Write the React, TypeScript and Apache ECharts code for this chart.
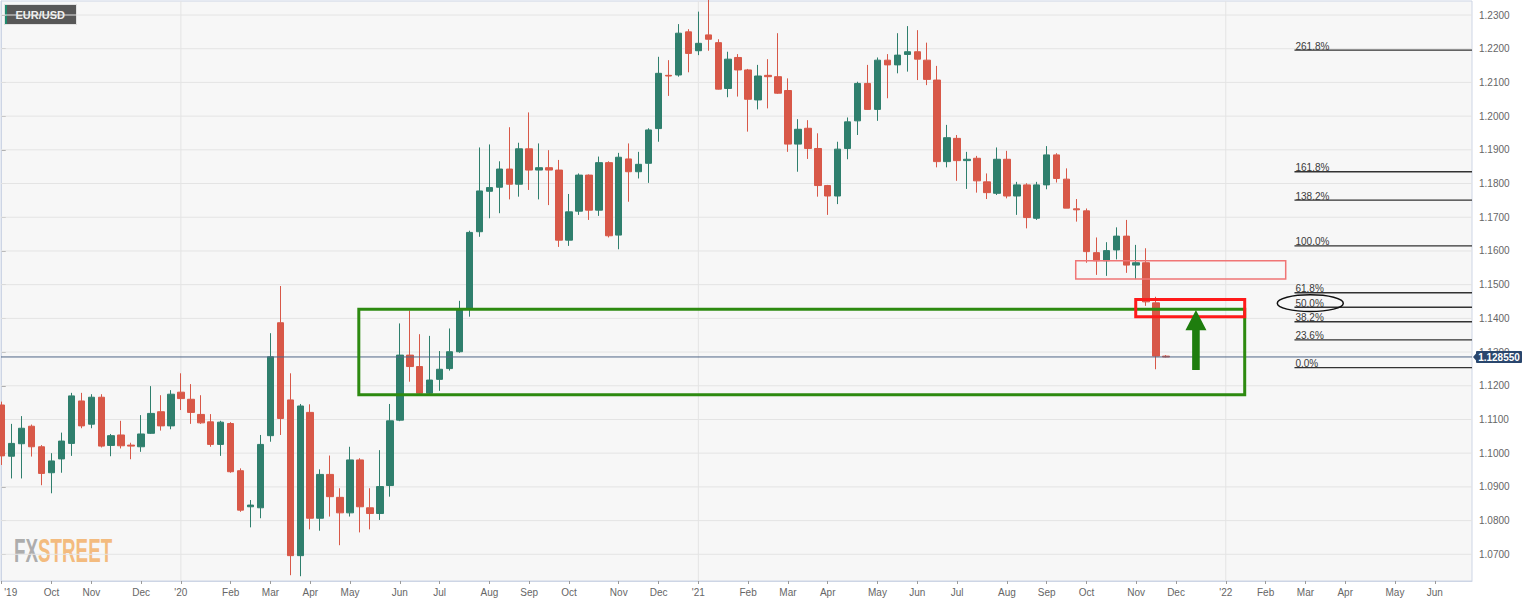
import React, { useEffect, useRef } from "react";
import * as echarts from "echarts";

// Weekly EUR/USD candles: [open, close, low, high]; week 0 = last week of Aug 2019
const ohlc: number[][] = [
  [1.1143, 1.0992, 1.0965, 1.1153],
  [1.0991, 1.1029, 1.0925, 1.1087],
  [1.1028, 1.1074, 1.0925, 1.1110],
  [1.1080, 1.1019, 1.0990, 1.1085],
  [1.1019, 1.0940, 1.0905, 1.1024],
  [1.0942, 1.0977, 1.0881, 1.1000],
  [1.0983, 1.1036, 1.0942, 1.1061],
  [1.1029, 1.1170, 1.0992, 1.1179],
  [1.1155, 1.1081, 1.1074, 1.1179],
  [1.1086, 1.1166, 1.1074, 1.1175],
  [1.1166, 1.1021, 1.1017, 1.1175],
  [1.1023, 1.1052, 1.0991, 1.1057],
  [1.1054, 1.1022, 1.1014, 1.1096],
  [1.1024, 1.1021, 1.0982, 1.1031],
  [1.1019, 1.1057, 1.1004, 1.1113],
  [1.1059, 1.1118, 1.1057, 1.1199],
  [1.1123, 1.1081, 1.1067, 1.1172],
  [1.1081, 1.1175, 1.1071, 1.1187],
  [1.1181, 1.1162, 1.1128, 1.1237],
  [1.1160, 1.1121, 1.1087, 1.1205],
  [1.1115, 1.1090, 1.1087, 1.1172],
  [1.1093, 1.1026, 1.1019, 1.1116],
  [1.1026, 1.1092, 1.0992, 1.1096],
  [1.1088, 1.0945, 1.0942, 1.1092],
  [1.0948, 1.0831, 1.0826, 1.0955],
  [1.0841, 1.0846, 1.0780, 1.0861],
  [1.0838, 1.1026, 1.0807, 1.1054],
  [1.1052, 1.1286, 1.1034, 1.1356],
  [1.1387, 1.1103, 1.1054, 1.1496],
  [1.1158, 1.0696, 1.0638, 1.1237],
  [1.0696, 1.1140, 1.0635, 1.1146],
  [1.1121, 1.0807, 1.0774, 1.1145],
  [1.0807, 1.0937, 1.0770, 1.0952],
  [1.0937, 1.0871, 1.0812, 1.0993],
  [1.0869, 1.0823, 1.0727, 1.0896],
  [1.0823, 1.0980, 1.0812, 1.1019],
  [1.0980, 1.0841, 1.0765, 1.0985],
  [1.0838, 1.0821, 1.0774, 1.0896],
  [1.0821, 1.0901, 1.0802, 1.1009],
  [1.0904, 1.1096, 1.0871, 1.1146],
  [1.1098, 1.1291, 1.1095, 1.1385],
  [1.1291, 1.1257, 1.1212, 1.1423],
  [1.1257, 1.1178, 1.1173, 1.1353],
  [1.1178, 1.1217, 1.1173, 1.1348],
  [1.1219, 1.1249, 1.1185, 1.1303],
  [1.1251, 1.1301, 1.1245, 1.1370],
  [1.1301, 1.1427, 1.1298, 1.1452],
  [1.1427, 1.1655, 1.1405, 1.1660],
  [1.1657, 1.1778, 1.1642, 1.1907],
  [1.1777, 1.1788, 1.1697, 1.1916],
  [1.1789, 1.1843, 1.1712, 1.1866],
  [1.1843, 1.1798, 1.1753, 1.1967],
  [1.1798, 1.1903, 1.1761, 1.1921],
  [1.1903, 1.1840, 1.1781, 1.2011],
  [1.1840, 1.1847, 1.1753, 1.1919],
  [1.1847, 1.1840, 1.1736, 1.1899],
  [1.1840, 1.1632, 1.1612, 1.1870],
  [1.1632, 1.1716, 1.1615, 1.1769],
  [1.1718, 1.1825, 1.1707, 1.1830],
  [1.1825, 1.1721, 1.1692, 1.1827],
  [1.1721, 1.1862, 1.1704, 1.1880],
  [1.1862, 1.1645, 1.1640, 1.1866],
  [1.1647, 1.1878, 1.1605, 1.1891],
  [1.1873, 1.1835, 1.1746, 1.1919],
  [1.1835, 1.1857, 1.1815, 1.1894],
  [1.1860, 1.1959, 1.1802, 1.1964],
  [1.1963, 1.2127, 1.1924, 1.2176],
  [1.2121, 1.2119, 1.2060, 1.2166],
  [1.2122, 1.2246, 1.2117, 1.2273],
  [1.2250, 1.2186, 1.2130, 1.2258],
  [1.2194, 1.2216, 1.2181, 1.2310],
  [1.2241, 1.2228, 1.2194, 1.2349],
  [1.2218, 1.2080, 1.2079, 1.2228],
  [1.2082, 1.2169, 1.2056, 1.2191],
  [1.2174, 1.2137, 1.2058, 1.2184],
  [1.2137, 1.2050, 1.1954, 1.2140],
  [1.2048, 1.2119, 1.2020, 1.2152],
  [1.2121, 1.2117, 1.2023, 1.2169],
  [1.2117, 1.2068, 1.2066, 1.2246],
  [1.2076, 1.1917, 1.1894, 1.2112],
  [1.1917, 1.1961, 1.1835, 1.1991],
  [1.1964, 1.1904, 1.1873, 1.1988],
  [1.1904, 1.1794, 1.1761, 1.1949],
  [1.1794, 1.1763, 1.1707, 1.1796],
  [1.1763, 1.1902, 1.1739, 1.1924],
  [1.1904, 1.1983, 1.1872, 1.1996],
  [1.1986, 1.2097, 1.1944, 1.2102],
  [1.2097, 1.2020, 1.2019, 1.2152],
  [1.2020, 1.2166, 1.1986, 1.2174],
  [1.2166, 1.2152, 1.2053, 1.2184],
  [1.2152, 1.2181, 1.2127, 1.2246],
  [1.2183, 1.2191, 1.2132, 1.2267],
  [1.2191, 1.2169, 1.2107, 1.2255],
  [1.2166, 1.2109, 1.2092, 1.2218],
  [1.2107, 1.1865, 1.1848, 1.2149],
  [1.1865, 1.1936, 1.1848, 1.1974],
  [1.1934, 1.1868, 1.1808, 1.1944],
  [1.1868, 1.1872, 1.1784, 1.1894],
  [1.1875, 1.1808, 1.1773, 1.1882],
  [1.1805, 1.1773, 1.1754, 1.1830],
  [1.1771, 1.1872, 1.1766, 1.1907],
  [1.1872, 1.1763, 1.1756, 1.1897],
  [1.1763, 1.1796, 1.1707, 1.1805],
  [1.1796, 1.1699, 1.1667, 1.1801],
  [1.1697, 1.1796, 1.1692, 1.1805],
  [1.1796, 1.1885, 1.1783, 1.1911],
  [1.1885, 1.1815, 1.1803, 1.1890],
  [1.1813, 1.1727, 1.1727, 1.1845],
  [1.1725, 1.1722, 1.1687, 1.1754],
  [1.1719, 1.1598, 1.1565, 1.1726],
  [1.1595, 1.1571, 1.1529, 1.1640],
  [1.1571, 1.1601, 1.1526, 1.1626],
  [1.1603, 1.1644, 1.1575, 1.1670],
  [1.1644, 1.1558, 1.1535, 1.1692],
  [1.1558, 1.1565, 1.1516, 1.1618],
  [1.1565, 1.1449, 1.1437, 1.1608],
  [1.1446, 1.1288, 1.1249, 1.1464],
  [1.1288, 1.12855, 1.1284, 1.1291],
];

// month tick labels (week index where the month starts)
const monthTickIndex = [0, 5, 9, 14, 18, 23, 27, 31, 35, 40, 44, 49, 53, 57, 62, 66, 70, 75, 79, 83, 88, 92, 96, 101, 105, 109, 114, 118, 123, 127, 131, 135, 140, 144];
const monthTickLabel = ["'19", "Oct", "Nov", "Dec", "'20", "Feb", "Mar", "Apr", "May", "Jun", "Jul", "Aug", "Sep", "Oct", "Nov", "Dec", "'21", "Feb", "Mar", "Apr", "May", "Jun", "Jul", "Aug", "Sep", "Oct", "Nov", "Dec", "'22", "Feb", "Mar", "Apr", "May", "Jun"];
const yearLineIndex = [18, 70, 123];
const priceTicks = [1.07, 1.08, 1.09, 1.1, 1.11, 1.12, 1.13, 1.14, 1.15, 1.16, 1.17, 1.18, 1.19, 1.2, 1.21, 1.22, 1.23];
const lastPrice = 1.12855;

const fibLabels = ["261.8%", "161.8%", "138.2%", "100.0%", "61.8%", "50.0%", "38.2%", "23.6%", "0.0%"];
const fibPrices = [1.2196, 1.1835, 1.1751, 1.1615, 1.1476, 1.1433, 1.139, 1.1336, 1.1254];

// annotation anchors (data coordinates: week index, price)
const greenZone = { x0: 35.88, x1: 124.9, top: 1.1427, bottom: 1.1173 };
const resistanceZone = { x0: 107.92, x1: 129.02, top: 1.1571, bottom: 1.1517 };
const fibZone = { x0: 113.95, x1: 124.9, top: 1.1456, bottom: 1.1405 };
const arrowAnchor = { x: 120, tip: 1.1425, headBase: 1.1365, tail: 1.1247 };
const ellipseAnchor = { x: 131.49, y: 1.1445 };
const fibStartIndex = 129.9;

const X_MIN = -0.0744;
const X_MAX = 147.74;
const Y_MIN = 1.06208;
const Y_MAX = 1.234154;

const UP = "#2f7f6d";
const DOWN = "#d85848";
const FONT = "'Liberation Sans', Arial, sans-serif";

export default function App() {
  const ref = useRef<HTMLDivElement>(null);

  useEffect(() => {
    document.body.style.margin = "0";
    if (!ref.current) return;
    const chart = echarts.init(ref.current, undefined, { renderer: "svg" });

    const candleData = ohlc.map((d, i) => [i, d[0], d[1], d[2], d[3]]);

    const background = (params: any, api: any) => {
      const children: any[] = [];
      priceTicks.forEach((p) => {
        const a = api.coord([X_MIN, p]);
        const b = api.coord([X_MAX, p]);
        children.push({ type: "line", shape: { x1: a[0], y1: a[1], x2: b[0], y2: b[1] }, style: { stroke: "#e4e4e4", lineWidth: 1 } });
      });
      yearLineIndex.forEach((x) => {
        const a = api.coord([x, Y_MIN]);
        const b = api.coord([x, Y_MAX]);
        children.push({ type: "line", shape: { x1: a[0], y1: a[1], x2: b[0], y2: b[1] }, style: { stroke: "#e4e4e4", lineWidth: 1 } });
      });
      return { type: "group", children };
    };

    const annotations = (params: any, api: any) => {
      const ch: any[] = [];
      const c = (x: number, y: number) => api.coord([x, y]);
      const box = (b: any, stroke: string, lw: number) => {
        const a = c(b.x0, b.top);
        const d = c(b.x1, b.bottom);
        ch.push({ type: "rect", shape: { x: a[0], y: a[1], width: d[0] - a[0], height: d[1] - a[1] }, style: { fill: "none", stroke, lineWidth: lw } });
      };
      // fib levels
      fibPrices.forEach((p, i) => {
        const a = c(fibStartIndex, p);
        const b = c(X_MAX, p);
        ch.push({ type: "line", shape: { x1: a[0], y1: a[1], x2: b[0], y2: b[1] }, style: { stroke: "#333", lineWidth: 1.3 } });
        ch.push({
          type: "text",
          x: a[0] + 1,
          y: a[1] + 1,
          style: { text: fibLabels[i], fill: "#3a3a3a", font: `10px ${FONT}`, textAlign: "left", align: "left", textVerticalAlign: "bottom", verticalAlign: "bottom" },
        });
      });
      // last price line
      const l0 = c(X_MIN, lastPrice);
      const l1 = c(X_MAX, lastPrice);
      ch.push({ type: "line", shape: { x1: l0[0], y1: l0[1], x2: l1[0], y2: l1[1] }, style: { stroke: "#4f6587", lineWidth: 1 } });
      // zones
      box(resistanceZone, "#f07575", 1.5);
      box(greenZone, "#2d8a10", 3);
      box(fibZone, "#ff1a1a", 3);
      // arrow
      const tip = c(arrowAnchor.x, arrowAnchor.tip);
      const hb = c(arrowAnchor.x, arrowAnchor.headBase);
      const tl = c(arrowAnchor.x, arrowAnchor.tail);
      const ax = tip[0];
      ch.push({
        type: "polygon",
        shape: { points: [[ax, tip[1]], [ax + 10.5, hb[1]], [ax + 3.8, hb[1]], [ax + 3.8, tl[1]], [ax - 3.8, tl[1]], [ax - 3.8, hb[1]], [ax - 10.5, hb[1]]] },
        style: { fill: "#1e7d0e" },
      });
      // ellipse around 50%
      const e = c(ellipseAnchor.x, ellipseAnchor.y);
      ch.push({ type: "ellipse", shape: { cx: e[0], cy: e[1], rx: 33, ry: 8.4 }, style: { fill: "none", stroke: "#111", lineWidth: 1.5 } });
      // price tag
      ch.push({ type: "polygon", shape: { points: [[l1[0] + 1, l1[1]], [l1[0] + 4.5, l1[1] - 4], [l1[0] + 4.5, l1[1] + 4]] }, style: { fill: "#29466d" } });
      ch.push({ type: "rect", shape: { x: l1[0] + 4, y: l1[1] - 6, width: 46, height: 12, r: 1 }, style: { fill: "#29466d" } });
      ch.push({
        type: "text",
        x: l1[0] + 27,
        y: l1[1] + 0.5,
        style: { text: lastPrice.toFixed(6), fill: "#ffffff", font: `bold 10px ${FONT}`, textAlign: "center", align: "center", textVerticalAlign: "middle", verticalAlign: "middle" },
      });
      return { type: "group", children: ch };
    };

    chart.setOption({
      animation: false,
      backgroundColor: "#ffffff",
      grid: { left: 1, right: 64, top: 1, bottom: 23, show: true, backgroundColor: "#f7f7f7", borderColor: "#cdd5e5", borderWidth: 1, containLabel: false, outerBoundsMode: "none" },
      xAxis: {
        type: "value",
        min: X_MIN,
        max: X_MAX,
        axisLine: { show: true, lineStyle: { color: "#cdd5e5" } },
        axisTick: { show: true, customValues: monthTickIndex, length: 3, lineStyle: { color: "#9a9a9a" } },
        axisLabel: {
          show: true,
          customValues: monthTickIndex,
          margin: 6,
          color: "#666",
          fontSize: 10,
          fontFamily: FONT,
          formatter: (v: number) => {
            const i = monthTickIndex.indexOf(Math.round(v));
            if (i < 0) return "";
            return i === 0 ? `{first|${monthTickLabel[i]}}` : monthTickLabel[i];
          },
          rich: { first: { padding: [0, 0, 0, 18], color: "#666", fontSize: 10, fontFamily: FONT } },
        },
        splitLine: { show: false },
      },
      yAxis: {
        type: "value",
        position: "right",
        min: Y_MIN,
        max: Y_MAX,
        scale: true,
        axisLine: { show: true, lineStyle: { color: "#cdd5e5" } },
        axisTick: { show: true, customValues: priceTicks, length: 4, lineStyle: { color: "#9a9a9a" } },
        axisLabel: { show: true, customValues: priceTicks, margin: 7, color: "#666", fontSize: 10, fontFamily: FONT, formatter: (v: number) => v.toFixed(4) },
        splitLine: { show: false },
      },
      graphic: [
        {
          type: "group",
          left: 4,
          top: 4,
          children: [
            { type: "rect", shape: { x: 0, y: 0, width: 72, height: 20 }, style: { fill: "#585858", stroke: "#e2e2e2", lineWidth: 1 } },
            { type: "rect", shape: { x: 0.5, y: 0.5, width: 2, height: 19 }, style: { fill: "#1f8a6e" } },
            { type: "text", x: 11, y: 10.5, style: { text: "EUR/USD", fill: "#f2f2f2", font: `bold 11px ${FONT}`, textVerticalAlign: "middle", verticalAlign: "middle" } },
          ],
        },
        { type: "text", x: 14, y: 551, scaleX: 0.57, style: { text: "FX", fill: "#a0a0a0", opacity: 0.85, font: `bold 33px ${FONT}`, textVerticalAlign: "middle", verticalAlign: "middle" } },
        { type: "text", x: 38, y: 551, scaleX: 0.57, style: { text: "STREET", fill: "#f3b169", opacity: 0.85, font: `bold 33px ${FONT}`, textVerticalAlign: "middle", verticalAlign: "middle" } },
      ],
      series: [
        { type: "custom", z: 1, silent: true, clip: false, renderItem: background, data: [[0, 1.1]] },
        {
          type: "candlestick",
          z: 3,
          barWidth: 7,
          data: candleData,
          itemStyle: { color: UP, color0: DOWN, borderColor: UP, borderColor0: DOWN, borderWidth: 1 },
        },
        { type: "custom", z: 6, silent: true, clip: false, renderItem: annotations, data: [[0, 1.1]] },
      ],
    });

    return () => chart.dispose();
  }, []);

  return <div ref={ref} style={{ width: 1536, height: 604 }} />;
}
